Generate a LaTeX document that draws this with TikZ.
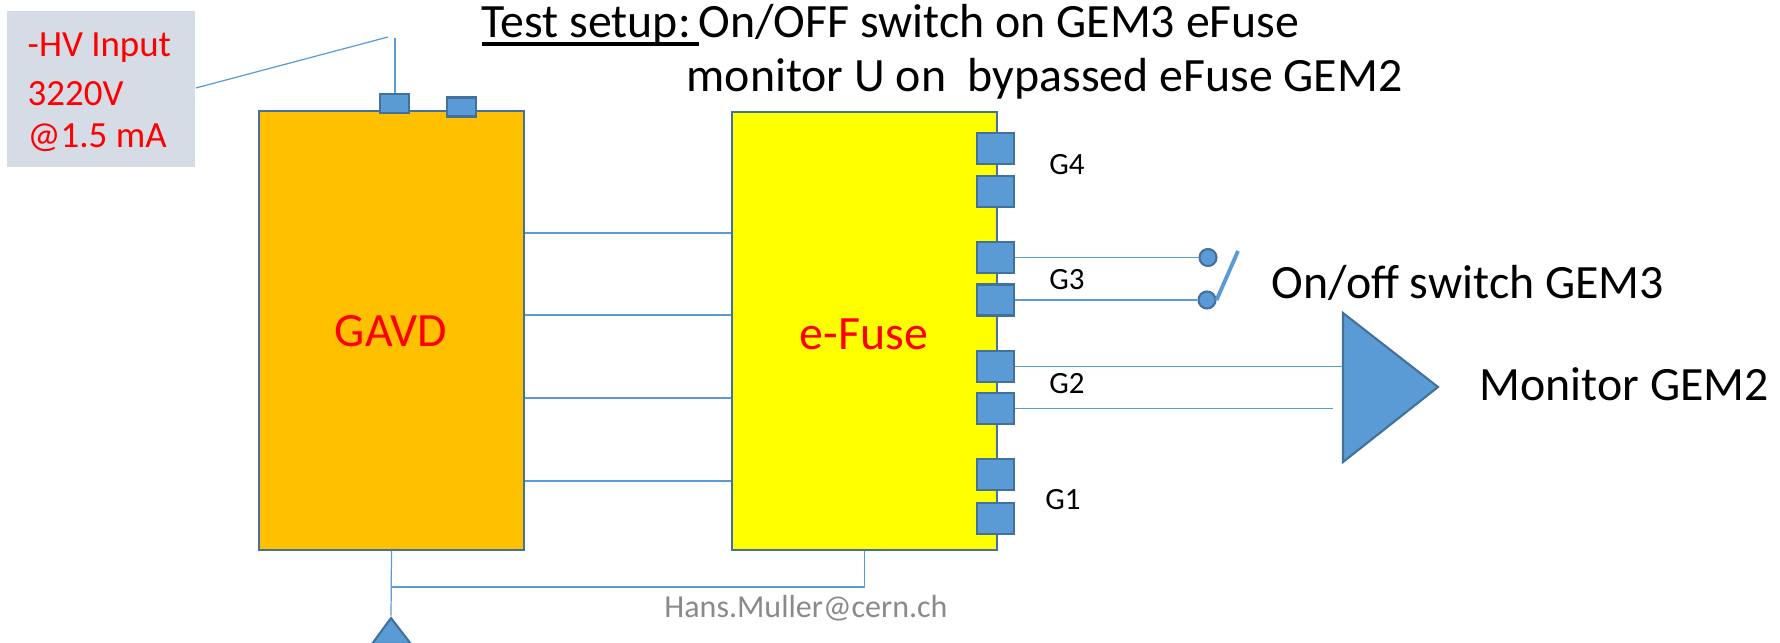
\documentclass[tikz,border=0pt]{standalone}
\usepackage{fontspec}
\setmainfont{Carlito}
\usetikzlibrary{positioning}
\definecolor{Wire_Blue}{HTML}{5B9BD5}
\definecolor{Edge_Blue}{HTML}{41719C}
\definecolor{Note_Gray}{HTML}{D6DCE5}
\definecolor{GAVD_Amber}{HTML}{FFC000}
\definecolor{Fuse_Yellow}{HTML}{FFFF00}
\definecolor{Mail_Gray}{HTML}{8A8A8A}
\newcommand{\heavyunder}[1]{\setbox0\hbox{#1}\rlap{\rule[-2.3pt]{\wd0}{1.1pt}}\box0}
\tikzset{
    block/.style={draw=Edge_Blue, line width=0.6pt, inner sep=0pt},
    pad/.style={draw=Edge_Blue, fill=Wire_Blue, line width=0.6pt, inner sep=0pt},
    wire/.style={Wire_Blue, line width=0.35pt},
    lab/.style={inner sep=0pt, font=\fontsize{8.8}{10}\selectfont},
    bigtext/.style={inner sep=0pt, anchor=west, font=\fontsize{13.6}{16}\selectfont},
    redtext/.style={inner sep=0pt, text=red, font=\fontsize{13.6}{16}\selectfont},
    notetext/.style={inner sep=0pt, anchor=west, text=red, font=\fontsize{10.5}{12}\selectfont},
}

\begin{document}
\begin{tikzpicture}[x=0.01cm, y=-0.01cm]
    \useasboundingbox (0, 0) rectangle (1780, 642);

    % Input note
    \node[fill=Note_Gray, inner sep=0pt, minimum width=1.88cm, minimum height=1.56cm] (hvbox) at (101, 89) {};
    \node[notetext] (hvone) at (27, 48) {-HV Input};
    \node[notetext] (hvtwo) at (27, 94) {3220V};
    \node[notetext] (hvthree) at (27, 138) {@1.5 mA};

    % Title
    \node[bigtext] (titleone) at (481, 25) {\heavyunder{Test setup:\hspace{2.2pt}}On/OFF switch on GEM3 eFuse};
    \node[bigtext] (titletwo) at (686, 79) {monitor U on\ \ bypassed eFuse GEM2};

    % Main blocks
    \node[block, fill=GAVD_Amber, minimum width=2.65cm, minimum height=4.38cm] (gavd) at (391.5, 330.5) {};
    \node[block, fill=Fuse_Yellow, minimum width=2.65cm, minimum height=4.38cm] (efuse) at (864.5, 331) {};
    \node[redtext] (gavdlab) at (391, 331) {GAVD};
    \node[redtext] (efuselab) at (864, 334) {e-Fuse};

    % Top pads
    \node[pad, minimum width=0.29cm, minimum height=0.19cm] (padin) at (394.5, 103.5) {};
    \node[pad, minimum width=0.29cm, minimum height=0.19cm] (padout) at (461.5, 107) {};
    \coordinate (hvcorner) at (388, 37);
    \coordinate (hvtop) at (395, 38);
    \draw[wire] (hvbox.east |- 0, 88) -- (hvcorner);
    \draw[wire] (hvtop) -- (padin.north -| hvtop);

    % Pads of the e-Fuse
    \foreach \padname/\padpos in {gfa/148.5, gfb/191.5, gta/257.5, gtb/300, gsa/366.5, gsb/408.5, goa/474.5, gob/518.5}
        \node[pad, minimum width=0.37cm, minimum height=0.31cm] (\padname) at (995.5, \padpos) {};

    \node[lab] (gfour) at (1067, 165) {G4};
    \node[lab] (gthree) at (1067, 280) {G3};
    \node[lab] (gtwo) at (1067, 384) {G2};
    \node[lab] (gone) at (1063, 500) {G1};

    % Links between blocks
    \foreach \linky in {233, 315, 398, 481}
        \draw[wire] (gavd.east |- 0, \linky) -- (efuse.west |- 0, \linky);

    % Switch
    \node[pad, circle, minimum size=0.17cm] (swtop) at (1208, 257.5) {};
    \node[pad, circle, minimum size=0.17cm] (swbot) at (1207, 300) {};
    \coordinate (leverend) at (1238, 251);
    \draw[wire] (gta.east) -- (swtop.west);
    \draw[wire] (gtb.east) -- (swbot.west);
    \draw[Wire_Blue, line width=1.1pt] (swbot.east) -- (leverend);
    \node[bigtext] (switchlab) at (1271, 283) {On/off switch GEM3};

    % Monitor amplifier
    \draw[pad] (1343, 313) -- (1438, 387) -- (1343, 462) -- cycle;
    \coordinate (ampin) at (1343, 366);
    \coordinate (ampgap) at (1333, 409);
    \draw[wire] (gsa.east) -- (gsa.east -| ampin);
    \draw[wire] (gsb.east) -- (gsb.east -| ampgap);
    \node[bigtext] (monitorlab) at (1479, 384) {Monitor GEM2};

    % Ground return
    \coordinate (gndjoin) at (391, 587);
    \node[inner sep=0pt] (gndtip) at (391, 618) {};
    \draw[pad] (391, 618) -- (411, 644) -- (372, 644) -- cycle;
    \draw[wire] (gavd.south) -- (gndtip);
    \draw[wire] (efuse.south) |- (gndjoin);

    \node[inner sep=0pt, text=Mail_Gray, font=\fontsize{9.1}{11}\selectfont] (maillab) at (806, 608) {Hans.Muller@cern.ch};
\end{tikzpicture}
\end{document}
